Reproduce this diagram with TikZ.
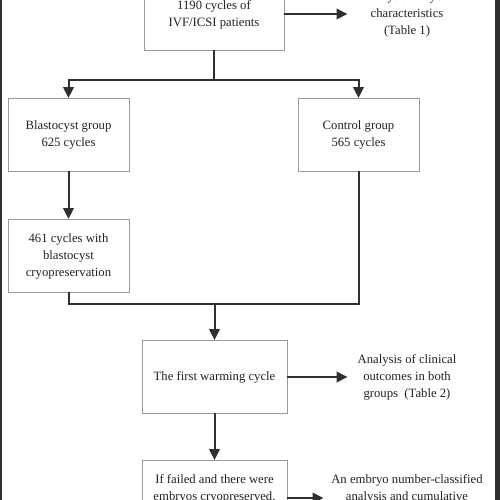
\documentclass[tikz,border=0pt]{standalone}
\usepackage{fontspec}
\setmainfont{Liberation Serif}
\usetikzlibrary{arrows.meta}
\definecolor{txt}{HTML}{222222}
\definecolor{boxline}{HTML}{9A9A9A}
\definecolor{edge}{HTML}{303030}
\tikzset{
  box/.style={draw=boxline, line width=0.9pt, fill=white, rectangle, inner sep=0pt},
  lbl/.style={text=txt, align=center, font=\fontsize{12.7}{17}\selectfont, inner sep=0pt},
  conn/.style={draw=edge, line width=2pt},
  arr/.style={conn, -{Triangle[length=11pt,width=10.5pt]}, shorten >=-0.5pt},
}
\begin{document}
\begin{tikzpicture}[x=1pt,y=-1pt]
\useasboundingbox (0,0) rectangle (500,500);
\clip (0,0) rectangle (500,500);
\fill[white] (0,0) rectangle (500,500);
% boxes
\node[box, minimum width=140pt, minimum height=73pt] (top) at (214,13.5) {};
\node[lbl] (toptext) at (214,14.5) {1190 cycles of\\IVF/ICSI patients};
\node[box, minimum width=121pt, minimum height=73pt] (blast) at (68.5,134.5) {};
\node[lbl] (blasttext) at (68.5,135) {Blastocyst group\\625 cycles};
\node[box, minimum width=121pt, minimum height=73pt] (control) at (358.5,134.5) {};
\node[lbl] (controltext) at (358.5,135) {Control group\\565 cycles};
\node[box, minimum width=121pt, minimum height=73pt] (cryo) at (68.5,255.5) {};
\node[lbl] (cryotext) at (68.5,256) {461 cycles with\\blastocyst\\cryopreservation};
\node[box, minimum width=145pt, minimum height=73pt] (warm) at (214.5,376.5) {};
\node[lbl] (warmtext) at (214.5,377) {The first warming cycle};
\node[box, minimum width=145pt, minimum height=73pt] (last) at (214.5,496.5) {};
\node[lbl, anchor=north] (lasttext) at (214.5,474.5) {If failed and there were\\embryos cryopreserved,};
% side texts
\node[lbl] (t1) at (407,14.5) {Analysis of cycle\\characteristics\\(Table 1)};
\node[lbl] (t2) at (407,377) {Analysis of clinical\\outcomes in both\\groups~~(Table 2)};
\node[lbl, anchor=north] (t3) at (407,474.5) {An embryo number-classified\\analysis and cumulative};
% coordinates
\coordinate (split) at (214,80);
\coordinate (merge) at (214.5,304);
\coordinate (e1) at (347,14);
\coordinate (e2) at (347,377);
\coordinate (e3) at (323,498);
% connectors
\draw[conn] (top.south) -- (split);
\draw[arr] (split) -| (blast.north);
\draw[arr] (split) -| (control.north);
\draw[arr] (blast.south) -- (cryo.north);
\draw[conn] (cryo.south) |- (merge);
\draw[conn] (control.south) |- (merge);
\draw[arr] (merge) -- (warm.north);
\draw[arr] (warm.south) -- (last.north);
\draw[arr] (top.east |- e1) -- (e1);
\draw[arr] (warm.east |- e2) -- (e2);
\draw[arr] (last.east |- e3) -- (e3);
% dark edges
\fill[edge] (0,0) rectangle (1.5,500);
\fill[edge] (495,0) rectangle (500,500);
\end{tikzpicture}
\end{document}
